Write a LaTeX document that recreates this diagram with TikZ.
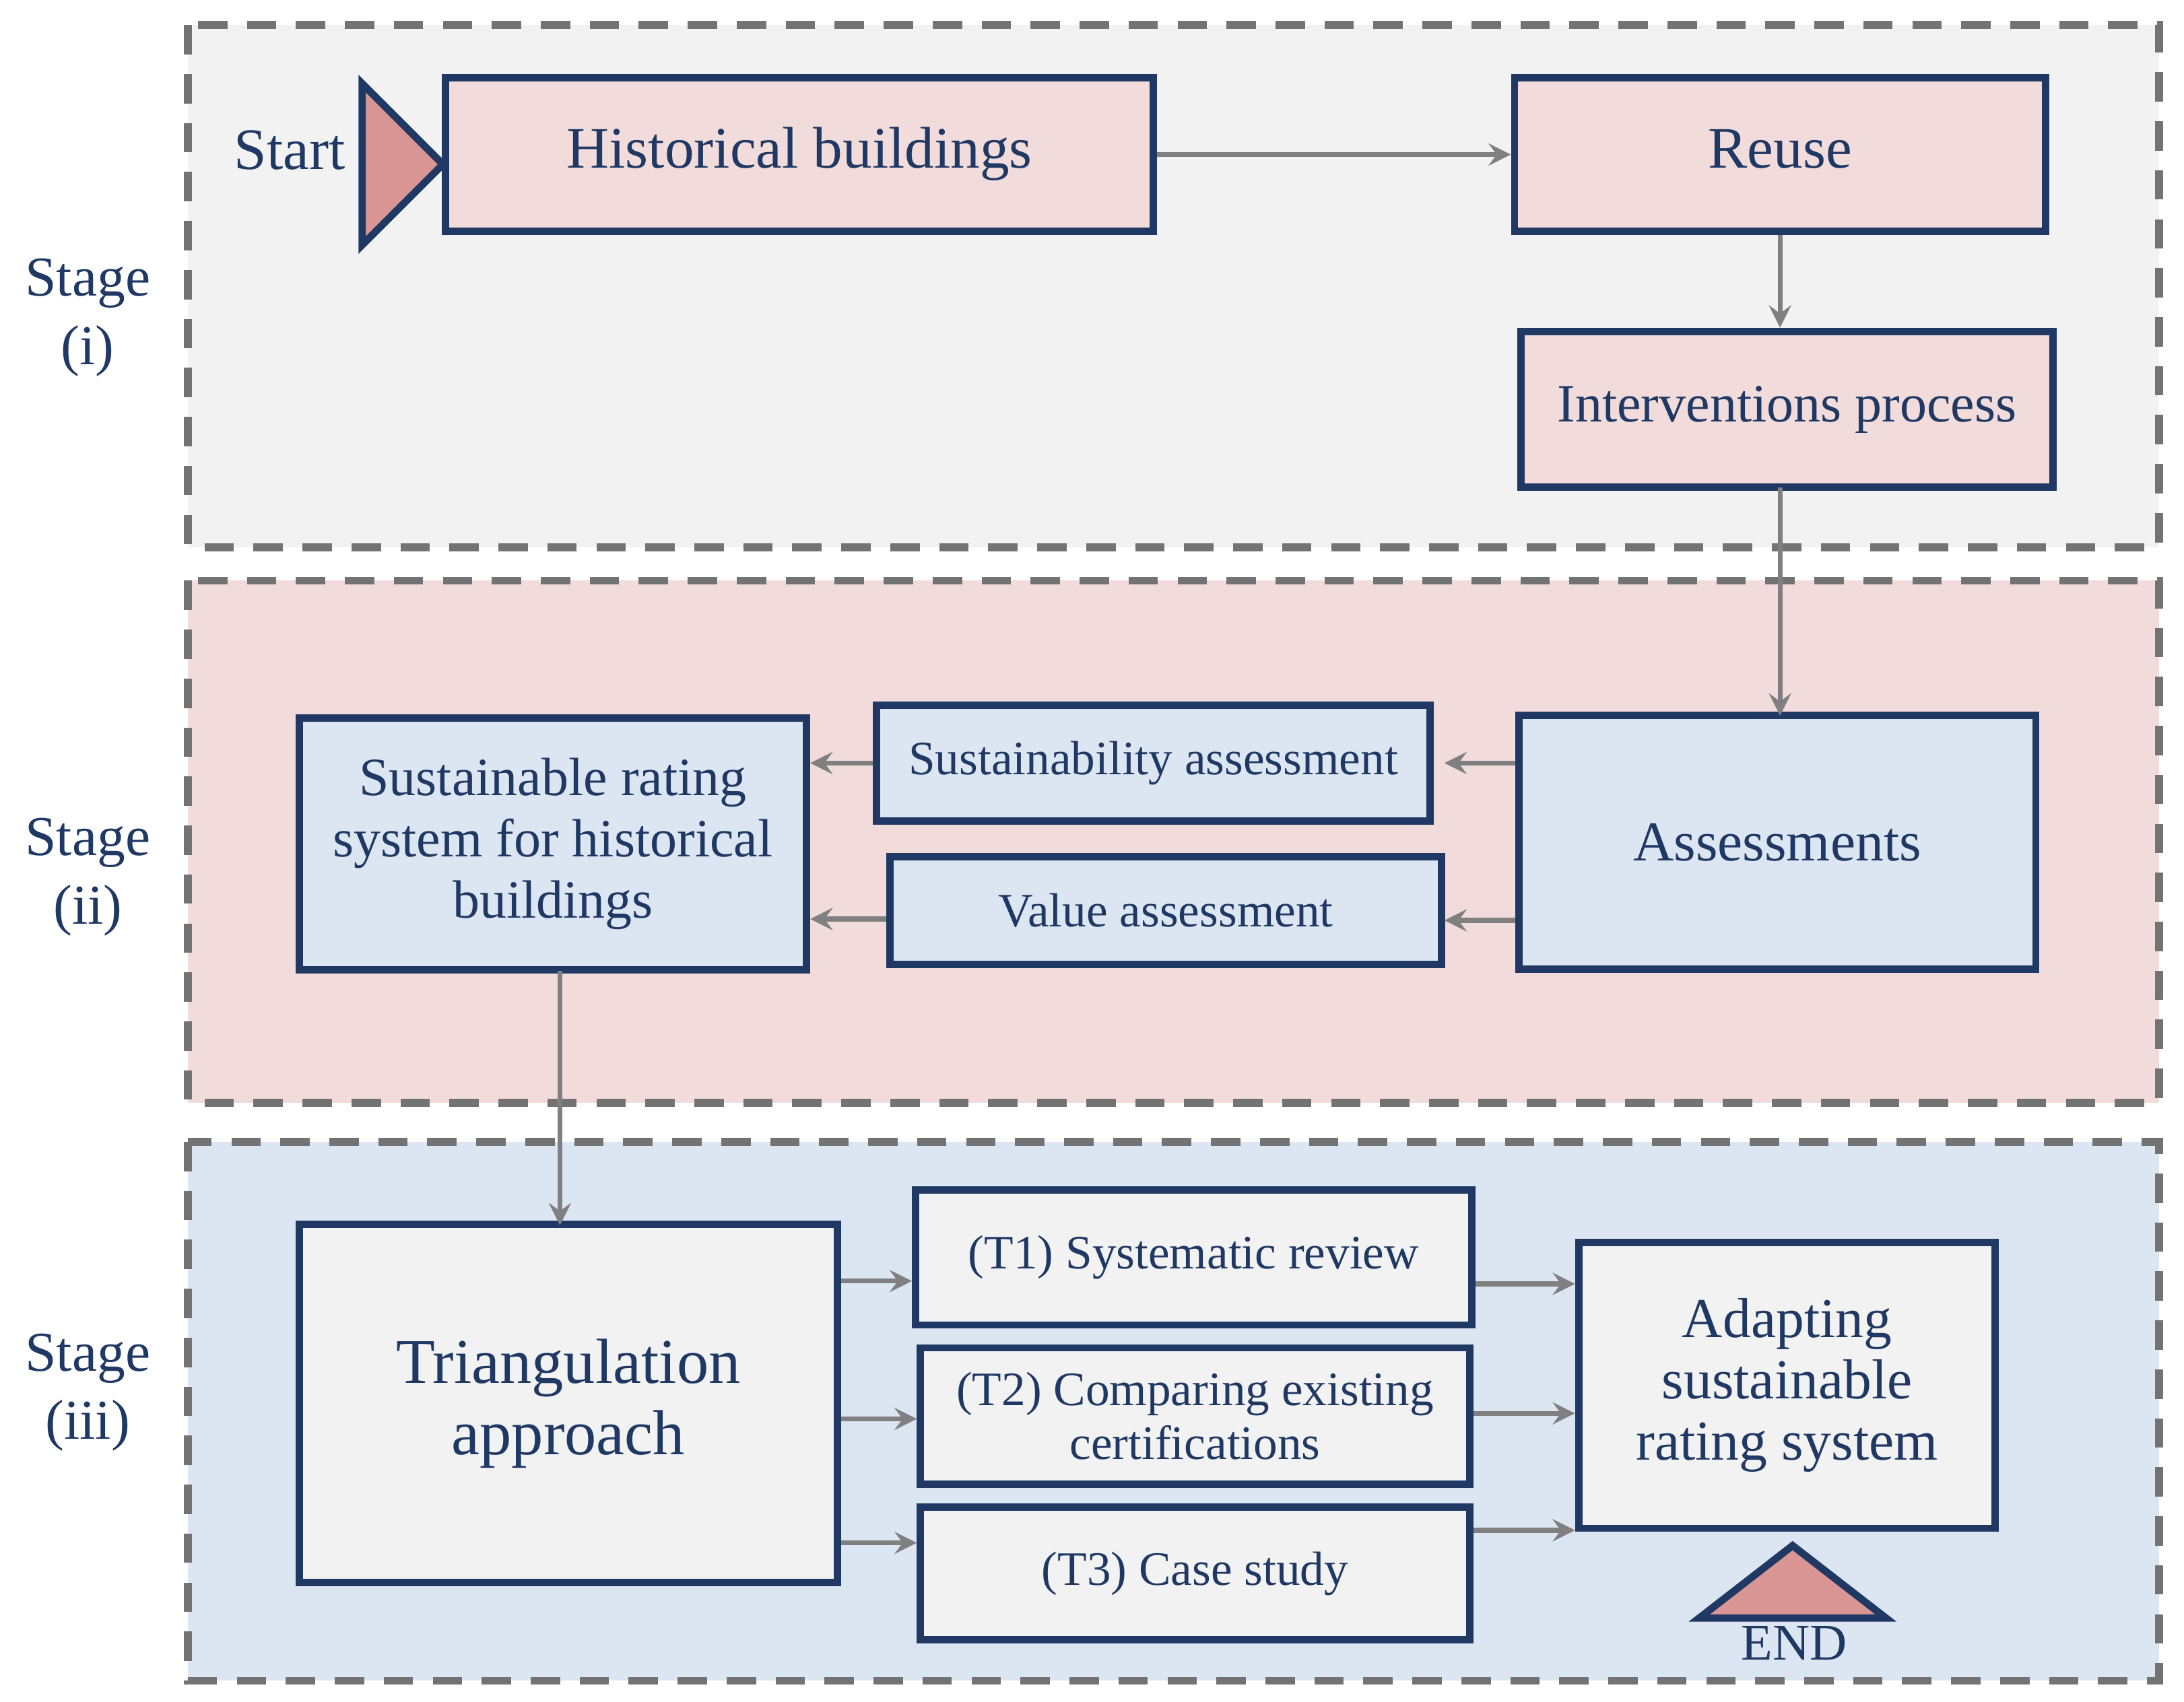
\documentclass[tikz,border=0pt]{standalone}
\usepackage{fontspec}
\setmainfont{Liberation Serif}
\begin{document}
\begin{tikzpicture}[x=0.01cm,y=-0.01cm,
  stage/.style={draw=gray!90!black,dashed,line width=1.6pt,dash pattern=on 6pt off 4pt},
  box/.style={draw=navy,line width=1.5pt,text=navy,align=center,inner sep=0pt},
  arr/.style={draw=gray,line width=1pt,-stealth},
  lab/.style={text=navy,align=center,font=\fontsize{11.5}{14}\selectfont}]
\definecolor{navy}{HTML}{1F3864}
\definecolor{pinkf}{HTML}{F2DCDB}
\definecolor{bluef}{HTML}{DCE6F2}
\definecolor{grayf}{HTML}{F2F2F2}
\definecolor{tri}{HTML}{D99694}
\useasboundingbox (0,0) rectangle (1568,1222);
\path[stage,fill=grayf] (135,18) rectangle (1550,393);
\path[stage,fill=pinkf] (135,417) rectangle (1550,792);
\path[stage,fill=bluef] (135,820) rectangle (1550,1207);
\node[lab] (s1) at (63,228) {Stage\\(i)};
\node[lab] (s2) at (63,630) {Stage\\(ii)};
\node[lab] (s3) at (63,1000) {Stage\\(iii)};
% stage i
\node[box,fill=pinkf,minimum width=5.08cm,minimum height=1.1cm,font=\fontsize{12}{14}\selectfont] (hb) at (574,111) {Historical buildings\strut};
\node[box,fill=pinkf,minimum width=3.81cm,minimum height=1.1cm,font=\fontsize{12}{14}\selectfont] (reuse) at (1278,111) {Reuse\strut};
\node[box,fill=pinkf,minimum width=3.82cm,minimum height=1.12cm,font=\fontsize{11}{13}\selectfont] (int) at (1283,294) {Interventions process\strut};
\draw[navy,line width=1.5pt,fill=tri] (260,60) -- (260,176) -- (318,118) -- cycle;
\node[lab,font=\fontsize{12}{14}\selectfont] (start) at (208,112) {Start\strut};
% stage ii
\node[box,fill=bluef,minimum width=3.71cm,minimum height=1.82cm,font=\fontsize{11.5}{14}\selectfont] (as) at (1276,605) {Assessments};
\node[box,fill=bluef,minimum width=3.97cm,minimum height=0.83cm,font=\fontsize{9.8}{12}\selectfont] (sa) at (828,548) {Sustainability assessment};
\node[box,fill=bluef,minimum width=3.96cm,minimum height=0.77cm,font=\fontsize{9.8}{12}\selectfont] (va) at (837,654) {Value assessment};
\node[box,fill=bluef,minimum width=3.64cm,minimum height=1.81cm,font=\fontsize{11}{12.5}\selectfont] (srs) at (397,606) {Sustainable rating\\system for historical\\buildings};
% stage iii
\node[box,fill=grayf,minimum width=3.86cm,minimum height=2.57cm,font=\fontsize{13}{14.5}\selectfont] (tri) at (408,1008) {Triangulation\\approach};
\node[box,fill=grayf,minimum width=3.99cm,minimum height=0.97cm,font=\fontsize{9.8}{12}\selectfont] (t1) at (857,903) {(T1) Systematic review};
\node[box,fill=grayf,minimum width=3.94cm,minimum height=0.98cm,font=\fontsize{9.8}{11}\selectfont] (t2) at (858,1017) {(T2) Comparing existing\\certifications};
\node[box,fill=grayf,minimum width=3.94cm,minimum height=0.95cm,font=\fontsize{9.8}{12}\selectfont] (t3) at (858,1130) {(T3) Case study};
\node[box,fill=grayf,minimum width=2.99cm,minimum height=2.05cm,font=\fontsize{11.5}{12.5}\selectfont] (ad) at (1283,995) {Adapting\\sustainable\\rating system};
\path (ad.south) ++(0,0);
\draw[navy,line width=1.5pt,fill=tri] (1220,1162) -- (1354,1162) -- (1287,1110) -- cycle;
\node[lab,font=\fontsize{10.5}{12}\selectfont] (end) at (1288,1180) {END};
% arrows
\draw[arr] (hb.east) -- (reuse.west);
\draw[arr] (reuse.south) -- (reuse.south|-int.north);
\draw[arr] (1278,350) -- (1278,514);
\draw[arr] (as.west|-0,548) -- (1037,548);
\draw[arr] (as.west|-0,661) -- (1037,661);
\draw[arr] (sa.west) -- (srs.east|-sa.west);
\draw[arr] (va.west|-0,660) -- (srs.east|-0,660);
\draw[arr] (402,697) -- (402,880);
\draw[arr] (tri.east|-0,920) -- (t1.west|-0,920);
\draw[arr] (tri.east|-0,1019) -- (t2.west|-0,1019);
\draw[arr] (tri.east|-0,1108) -- (t3.west|-0,1108);
\draw[arr] (t1.east|-0,922) -- (ad.west|-0,922);
\draw[arr] (t2.east|-0,1015) -- (ad.west|-0,1015);
\draw[arr] (t3.east|-0,1099) -- (ad.west|-0,1099);
\end{tikzpicture}
\end{document}
